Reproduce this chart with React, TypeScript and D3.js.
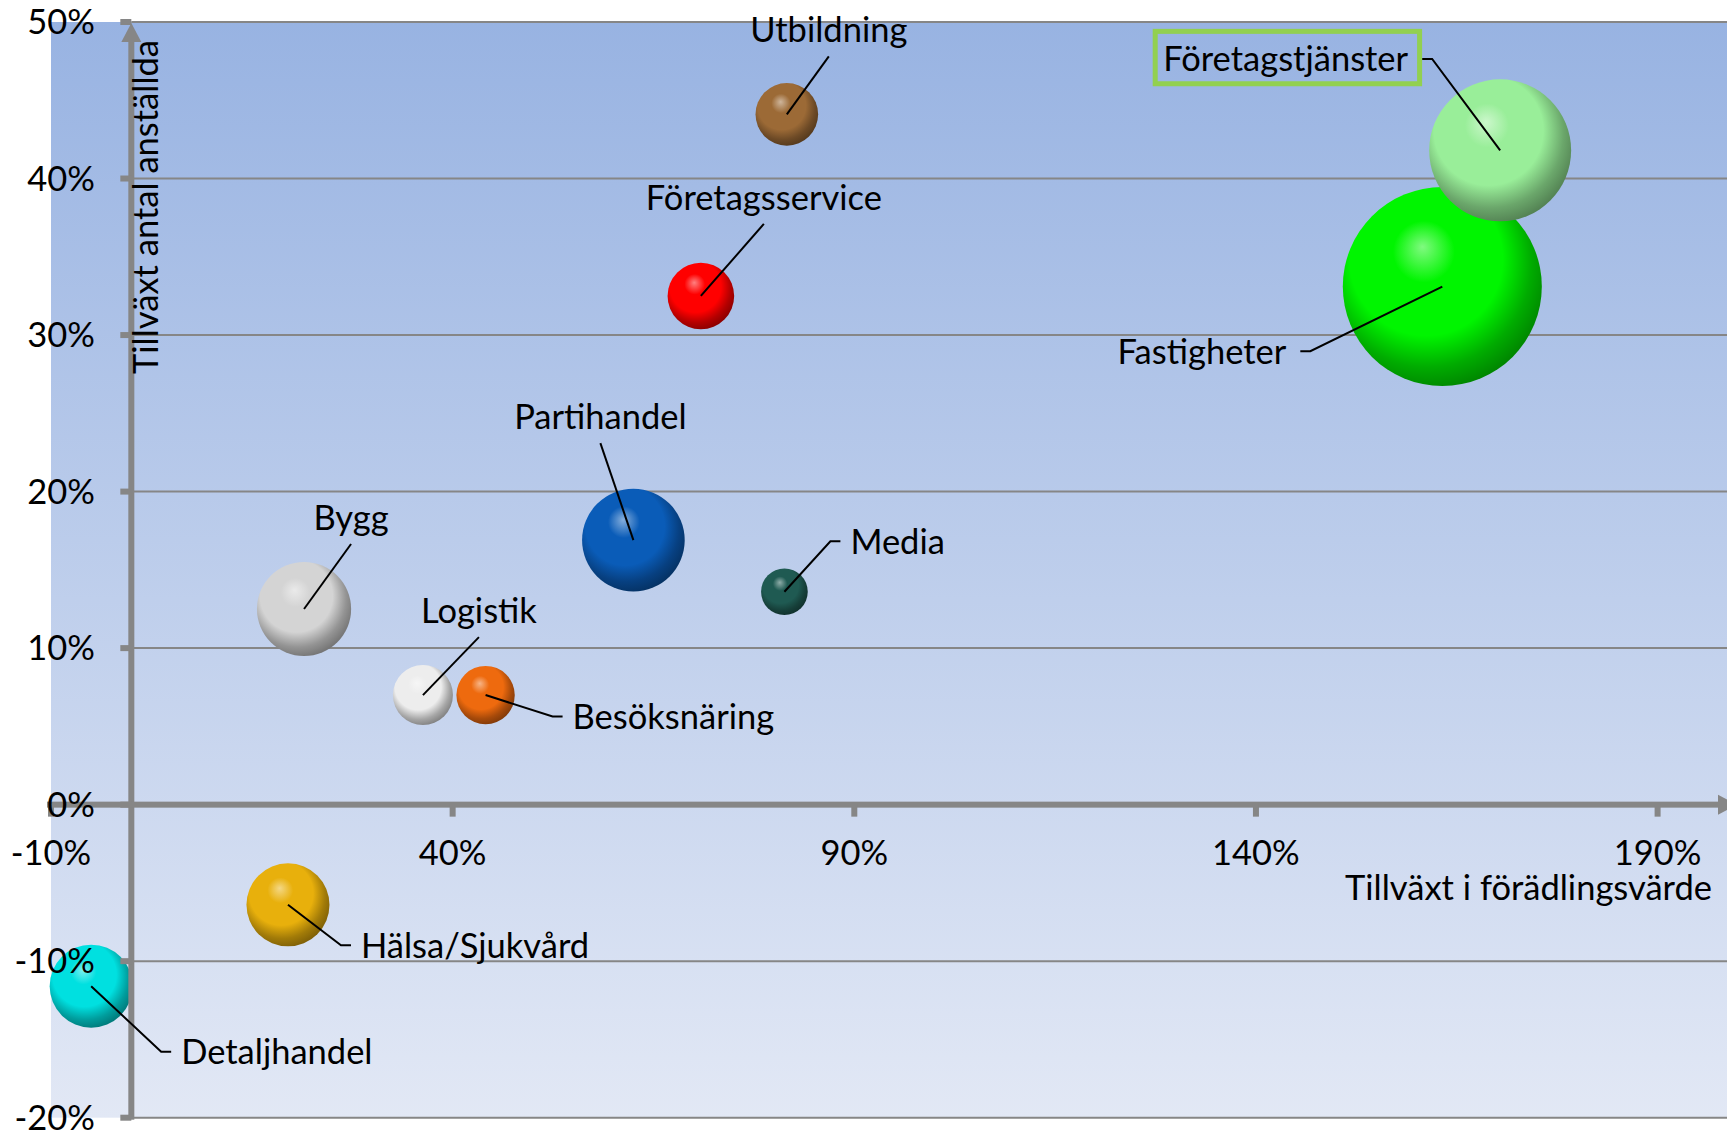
import { useEffect, useRef } from 'react'
import * as d3 from 'd3'

// Branscher: tillväxt i förädlingsvärde (x, %) mot tillväxt antal anställda (y, %)
const sectors = [
  'Utbildning',
  'Företagsservice',
  'Företagstjänster',
  'Fastigheter',
  'Partihandel',
  'Media',
  'Bygg',
  'Logistik',
  'Besöksnäring',
  'Hälsa/Sjukvård',
  'Detaljhandel',
]
const valueGrowth = [81.6, 70.9, 170.4, 163.2, 62.5, 81.3, 21.5, 36.3, 44.1, 19.5, -5.0]
const employeeGrowth = [44.1, 32.5, 41.8, 33.1, 16.9, 13.6, 12.5, 7.0, 7.0, -6.4, -11.6]
const bubbleSize = [9.9, 11.2, 50.9, 100, 26.6, 5.5, 22.4, 9.1, 8.6, 17.4, 17.4]
const bubbleColors = [
  '#9c6a36', '#ff0000', '#99ee99', '#00f500', '#0a5cb8', '#1f5a52',
  '#d4d4d4', '#ededed', '#ee6a0e', '#e8b00c', '#00e0e0',
]

const xTicks = [-10, 40, 90, 140, 190]
const yTicks = [-20, -10, 0, 10, 20, 30, 40, 50]
const xTitle = 'Tillväxt i förädlingsvärde'
const yTitle = 'Tillväxt antal anställda'

// label placement relative to the bubble centre (pixels)
const labelLayout: Record<string, { side: 'above' | 'right' | 'left'; dx: number; dy: number; boxed?: boolean }> = {
  'Utbildning': { side: 'above', dx: 42, dy: -72 },
  'Företagsservice': { side: 'above', dx: 63, dy: -86 },
  'Bygg': { side: 'above', dx: 47, dy: -79 },
  'Logistik': { side: 'above', dx: 56, dy: -72 },
  'Partihandel': { side: 'above', dx: -33, dy: -111 },
  'Media': { side: 'right', dx: 66, dy: -38 },
  'Besöksnäring': { side: 'right', dx: 87, dy: 34 },
  'Hälsa/Sjukvård': { side: 'right', dx: 73, dy: 53 },
  'Detaljhandel': { side: 'right', dx: 90, dy: 78 },
  'Företagstjänster': { side: 'left', dx: -92, dy: -79, boxed: true },
  'Fastigheter': { side: 'left', dx: -156, dy: 77 },
}

const WIDTH = 1727
const HEIGHT = 1130
const FONT = "Lato, 'Open Sans', sans-serif"
const FONT_SIZE = 34.5
const AXIS = '#868686'

export default function App() {
  const svgRef = useRef<SVGSVGElement>(null)

  useEffect(() => {
    if (!svgRef.current) return
    const svg = d3.select(svgRef.current)
    svg.selectAll('*').remove()

    const x = d3.scaleLinear().domain([-10, 190]).range([51, 1657.6])
    const y = d3.scaleLinear().domain([-20, 50]).range([1117.7, 22])
    const r = d3.scaleSqrt().domain([0, 100]).range([0, 99.5])

    const x0 = x(0)
    const y0 = y(0)

    const defs = svg.append('defs')
    const bg = defs.append('linearGradient')
      .attr('id', 'plotBg')
      .attr('x1', 0).attr('y1', 0).attr('x2', 0).attr('y2', 1)
    bg.append('stop').attr('offset', '0%').attr('stop-color', '#98b3e2')
    bg.append('stop').attr('offset', '100%').attr('stop-color', '#e2e8f5')

    // sphere-like shading for each bubble, shadow towards lower right
    bubbleColors.forEach((c, i) => {
      const base = d3.color(c)!
      const g = defs.append('radialGradient')
        .attr('id', `ball${i}`)
        .attr('cx', '43%').attr('cy', '40%').attr('r', '62%')
        .attr('fx', '40%').attr('fy', '30%')
      g.append('stop').attr('offset', '0%').attr('stop-color', d3.interpolateRgb(c, '#ffffff')(0.5))
      g.append('stop').attr('offset', '25%').attr('stop-color', c)
      g.append('stop').attr('offset', '62%').attr('stop-color', c)
      g.append('stop').attr('offset', '84%').attr('stop-color', base.darker(1).formatHex())
      g.append('stop').attr('offset', '100%').attr('stop-color', base.darker(1.7).formatHex())
    })

    // plot area
    svg.append('rect')
      .attr('x', x(-10))
      .attr('y', y(50))
      .attr('width', WIDTH - x(-10))
      .attr('height', y(-20) - y(50))
      .attr('fill', 'url(#plotBg)')

    // gridlines
    svg.append('g')
      .selectAll('line')
      .data(yTicks)
      .join('line')
      .attr('x1', x0)
      .attr('x2', WIDTH)
      .attr('y1', d => y(d))
      .attr('y2', d => y(d))
      .attr('stroke', AXIS)
      .attr('stroke-width', 2)

    // bubbles, largest first so small ones stay visible
    const idx = d3.range(sectors.length).sort((a, b) => bubbleSize[b] - bubbleSize[a])
    svg.append('g')
      .selectAll('circle')
      .data(idx)
      .join('circle')
      .attr('cx', i => x(valueGrowth[i]))
      .attr('cy', i => y(employeeGrowth[i]))
      .attr('r', i => r(bubbleSize[i]))
      .attr('fill', i => `url(#ball${i})`)

    // axes
    const axes = svg.append('g').attr('fill', AXIS)
    axes.append('rect')
      .attr('x', x0 - 3).attr('y', y(50) + 18)
      .attr('width', 6).attr('height', y(-20) - y(50) - 16)
    axes.append('path')
      .attr('d', `M${x0},${y(50) + 1}L${x0 + 10},${y(50) + 20}L${x0 - 10},${y(50) + 20}Z`)
    axes.selectAll('rect.ytick')
      .data(yTicks)
      .join('rect')
      .attr('class', 'ytick')
      .attr('x', x0 - 11).attr('y', d => y(d) - 3)
      .attr('width', 11).attr('height', 6)
    axes.append('rect')
      .attr('x', x(-10) - 4).attr('y', y0 - 3)
      .attr('width', WIDTH - 9 - x(-10) + 4).attr('height', 6)
    axes.append('path')
      .attr('d', `M${WIDTH + 10},${y0}L${WIDTH - 9},${y0 - 10}L${WIDTH - 9},${y0 + 10}Z`)
    axes.selectAll('rect.xtick')
      .data(xTicks)
      .join('rect')
      .attr('class', 'xtick')
      .attr('x', d => x(d) - 3).attr('y', y0)
      .attr('width', 6).attr('height', 12)

    const text = svg.append('g')
      .attr('font-family', FONT)
      .attr('font-size', FONT_SIZE)
      .attr('fill', '#000')

    text.selectAll('text.ylab')
      .data(yTicks)
      .join('text')
      .attr('class', 'ylab')
      .attr('x', 95)
      .attr('y', d => y(d) + 12)
      .attr('text-anchor', 'end')
      .text(d => `${d}%`)

    text.selectAll('text.xlab')
      .data(xTicks)
      .join('text')
      .attr('class', 'xlab')
      .attr('x', d => x(d))
      .attr('y', y0 + 60)
      .attr('text-anchor', 'middle')
      .text(d => `${d}%`)

    text.append('text')
      .attr('x', 1712)
      .attr('y', y0 + 95)
      .attr('text-anchor', 'end')
      .text(xTitle)

    text.append('text')
      .attr('transform', `translate(158,40) rotate(-90)`)
      .attr('text-anchor', 'end')
      .text(yTitle)

    // data labels with leader lines
    const leaders = svg.append('g')
      .attr('fill', 'none')
      .attr('stroke', '#000')
      .attr('stroke-width', 2)

    sectors.forEach((name, i) => {
      const cx = x(valueGrowth[i])
      const cy = y(employeeGrowth[i])
      const lay = labelLayout[name]
      const tx = cx + lay.dx
      const ty = cy + lay.dy
      let path = ''
      let anchor = 'middle'
      if (lay.side === 'above') {
        path = `M${tx},${ty + 14}L${cx},${cy}`
      } else if (lay.side === 'right') {
        anchor = 'start'
        path = `M${tx - 10},${ty - 12.5}L${tx - 20},${ty - 12.5}L${cx},${cy}`
      } else {
        anchor = 'end'
        path = `M${tx + 14},${ty - 12.4}L${tx + 24},${ty - 12.4}L${cx},${cy}`
      }
      leaders.append('path').attr('d', path)

      const t = text.append('text')
        .attr('x', tx)
        .attr('y', ty)
        .attr('text-anchor', anchor)
        .text(name)

      if (lay.boxed) {
        const bb = (t.node() as SVGTextElement).getBBox()
        svg.append('rect')
          .attr('x', bb.x - 8)
          .attr('y', ty - 40)
          .attr('width', bb.width + 19)
          .attr('height', 52.4)
          .attr('fill', 'none')
          .attr('stroke', '#92d050')
          .attr('stroke-width', 5)
      }
    })
  }, [])

  return (
    <svg
      ref={svgRef}
      width={WIDTH}
      height={HEIGHT}
      style={{ position: 'absolute', left: 0, top: 0, display: 'block', background: '#fff' }}
    />
  )
}
